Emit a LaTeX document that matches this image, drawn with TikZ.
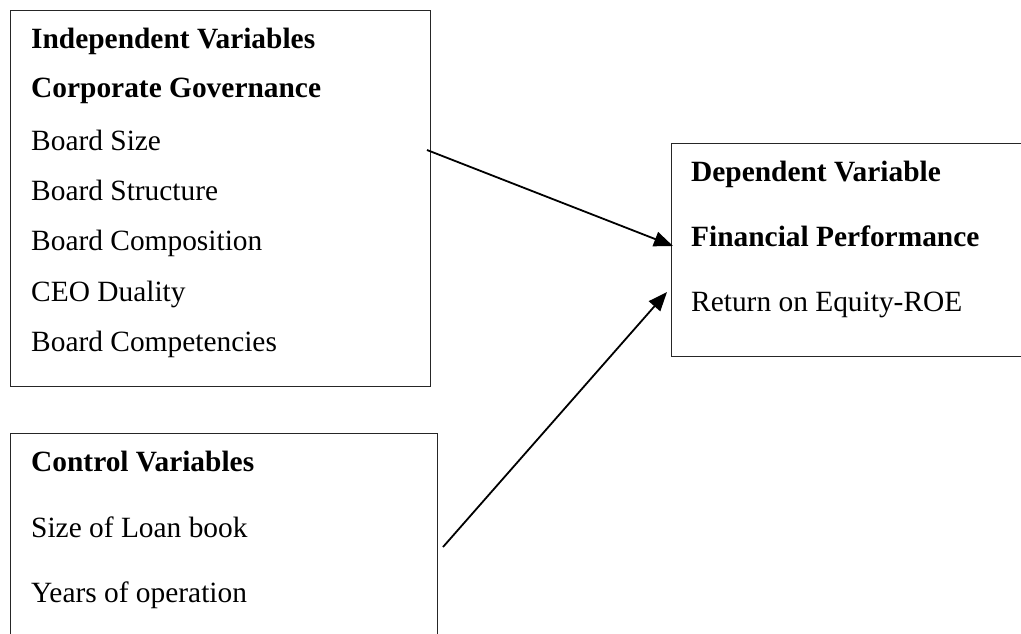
\documentclass[tikz,border=0pt]{standalone}
\usepackage{fontspec}
\setmainfont{Liberation Serif}
\usetikzlibrary{arrows.meta,calc}
\begin{document}
\begin{tikzpicture}[x=1pt,y=-1pt,
  frame/.style={draw=black!85,line width=1.4pt,inner sep=0pt,anchor=north west},
  lbl/.style={anchor=base west,inner sep=0pt,font=\fontsize{29.4}{32}\selectfont},
  hd/.style={lbl,font=\fontsize{29.4}{32}\selectfont\bfseries},
  link/.style={line width=1.8pt,-{Triangle[length=19pt,width=15pt]}}]
\useasboundingbox (0,0) rectangle (1021,633);
% boxes
\node[frame,minimum width=420pt,minimum height=376pt] (indep) at (10,10) {};
\node[frame,minimum width=427pt,minimum height=230pt] (ctrl) at (10,433) {};
\node[frame,minimum width=380pt,minimum height=213pt] (dep) at (671,143) {};
% box 1 texts
\node[hd] (t1) at (31,48) {Independent Variables};
\node[hd] (t2) at (31,97) {Corporate Governance};
\node[lbl] (t3) at (31,150) {Board Size};
\node[lbl] (t4) at (31,200.5) {Board Structure};
\node[lbl] (t5) at (31,250.5) {Board Composition};
\node[lbl] (t6) at (31,301) {CEO Duality};
\node[lbl] (t7) at (31,351) {Board Competencies};
% box 2 texts
\node[hd] (c1) at (31,471.5) {Control Variables};
\node[lbl] (c2) at (31,537.3) {Size of Loan book};
\node[lbl] (c3) at (31,602.3) {Years of operation};
% box 3 texts
\node[hd] (d1) at (691,181.7) {Dependent Variable};
\node[hd] (d2) at (691,246.7) {Financial Performance};
\node[lbl] (d3) at (691,311.7) {Return on Equity-ROE};
% arrows
\coordinate (s1) at (427,150);
\coordinate (s2) at (443,547);
\coordinate (e1) at ($(dep.north west)+(2,103)$);
\coordinate (e2) at ($(dep.north west)+(-4,149)$);
\draw[link] (s1) -- (e1);
\draw[link] (s2) -- (e2);
\end{tikzpicture}
\end{document}
